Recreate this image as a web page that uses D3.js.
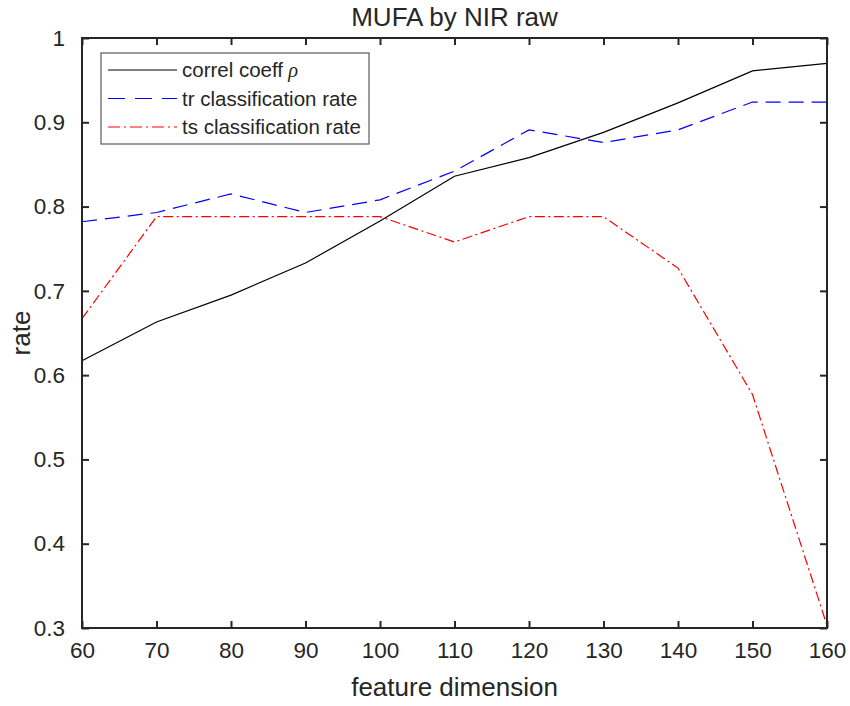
<!DOCTYPE html>
<html>
<head>
<meta charset="utf-8">
<script src="https://cdn.jsdelivr.net/npm/d3@7"></script>
<style>
body { margin: 0; background: #fff; }
text { font-family: "Liberation Sans", Arial, sans-serif; fill: #262626; }
</style>
</head>
<body>
<script>
// feature dimensions on x
var dims = [60, 70, 80, 90, 100, 110, 120, 130, 140, 150, 160];

// series
var correl = [0.617, 0.663, 0.695, 0.733, 0.783, 0.836, 0.858, 0.888, 0.923, 0.961, 0.970];
var trRate = [0.782, 0.793, 0.815, 0.793, 0.808, 0.842, 0.891, 0.876, 0.891, 0.924, 0.924];
var tsRate = [0.667, 0.788, 0.788, 0.788, 0.788, 0.758, 0.788, 0.788, 0.727, 0.577, 0.303];

var xTicks = [60, 70, 80, 90, 100, 110, 120, 130, 140, 150, 160];
var yTicks = [0.3, 0.4, 0.5, 0.6, 0.7, 0.8, 0.9, 1];

var seriesNames = ["correl coeff", "tr classification rate", "ts classification rate"];

window.onload = drawChart();

function drawChart(){
    var width = 850,
        height = 706,
        margin = {top: 38, right: 23, bottom: 78, left: 82};

    var svg = d3.select("body")
        .append("svg")
        .attr("width", width)
        .attr("height", height);

    var x = d3.scaleLinear()
        .domain([60, 160])
        .range([margin.left, width - margin.right]);
    var y = d3.scaleLinear()
        .domain([0.3, 1])
        .range([height - margin.bottom, margin.top]);

    var series = [
        {name: seriesNames[0], values: correl, color: "#000000", dash: null, legendDash: null},
        {name: seriesNames[1], values: trRate, color: "#0000ff", dash: "15,8", legendDash: "17,10"},
        {name: seriesNames[2], values: tsRate, color: "#ff0000", dash: "10,3.5,2,3.5", legendDash: "12,4,2,4"}
    ];

    var line = d3.line()
        .x(function(d, i){ return x(dims[i]); })
        .y(function(d){ return y(d); });

    //data lines
    svg.selectAll(".series")
        .data(series)
        .enter()
        .append("path")
        .attr("class", "series")
        .attr("d", function(d){ return line(d.values); })
        .attr("fill", "none")
        .attr("stroke", function(d){ return d.color; })
        .attr("stroke-width", 1.2)
        .attr("stroke-dasharray", function(d){ return d.dash; });

    //axes with matlab style ticks inward
    var axisColor = "#262626";
    var bottom = svg.append("g")
        .attr("transform", "translate(0," + (height - margin.bottom) + ")")
        .call(d3.axisBottom(x).tickValues(xTicks).tickSize(-7).tickPadding(14).tickFormat(d3.format("d")));
    var top = svg.append("g")
        .attr("transform", "translate(0," + margin.top + ")")
        .call(d3.axisTop(x).tickValues(xTicks).tickSize(-7).tickFormat(""));
    var left = svg.append("g")
        .attr("transform", "translate(" + margin.left + ",0)")
        .call(d3.axisLeft(y).tickValues(yTicks).tickSize(-7).tickPadding(17).tickFormat(function(d){ return d === 1 ? "1" : d3.format(".1f")(d); }));
    var right = svg.append("g")
        .attr("transform", "translate(" + (width - margin.right) + ",0)")
        .call(d3.axisRight(y).tickValues(yTicks).tickSize(-7).tickFormat(""));

    [bottom, top, left, right].forEach(function(g){
        g.select(".domain").remove();
        g.selectAll(".tick line").attr("stroke", axisColor).attr("stroke-width", 2);
        g.selectAll(".tick text")
            .style("font-family", "'Liberation Sans', Arial, sans-serif")
            .style("font-size", "22.5px")
            .attr("fill", axisColor);
    });

    //box
    svg.append("rect")
        .attr("x", margin.left)
        .attr("y", margin.top)
        .attr("width", width - margin.left - margin.right)
        .attr("height", height - margin.top - margin.bottom)
        .attr("fill", "none")
        .attr("stroke", axisColor)
        .attr("stroke-width", 2);

    //title and labels
    svg.append("text")
        .attr("x", (margin.left + width - margin.right) / 2)
        .attr("y", 26)
        .attr("text-anchor", "middle")
        .style("font-size", "26px")
        .text("MUFA by NIR raw");
    svg.append("text")
        .attr("x", (margin.left + width - margin.right) / 2)
        .attr("y", 696)
        .attr("text-anchor", "middle")
        .style("font-size", "26px")
        .text("feature dimension");
    svg.append("text")
        .attr("transform", "translate(30," + ((margin.top + height - margin.bottom) / 2) + ") rotate(-90)")
        .attr("text-anchor", "middle")
        .style("font-size", "26px")
        .text("rate");

    //legend
    var legend = svg.append("g").attr("class", "legend");
    legend.append("rect")
        .attr("x", 101)
        .attr("y", 53)
        .attr("width", 268)
        .attr("height", 91)
        .attr("fill", "#fff")
        .attr("stroke", "#5a5a5a")
        .attr("stroke-width", 1.2);

    var rows = legend.selectAll(".row")
        .data(series)
        .enter()
        .append("g")
        .attr("class", "row")
        .attr("transform", function(d, i){ return "translate(0," + (70 + i * 28.5) + ")"; });
    rows.append("line")
        .attr("x1", 108).attr("x2", 177)
        .attr("stroke", function(d){ return d.color; })
        .attr("stroke-width", 1.2)
        .attr("stroke-dasharray", function(d){ return d.legendDash; });
    var labels = rows.append("text")
        .attr("x", 182)
        .attr("dy", "0.35em")
        .style("font-size", "20.5px")
        .text(function(d){ return d.name; });
    labels.filter(function(d, i){ return i === 0; })
        .append("tspan")
        .style("font-family", "'Liberation Serif', 'Times New Roman', serif")
        .style("font-style", "italic")
        .text(" \u03C1");
}
</script>
</body>
</html>
